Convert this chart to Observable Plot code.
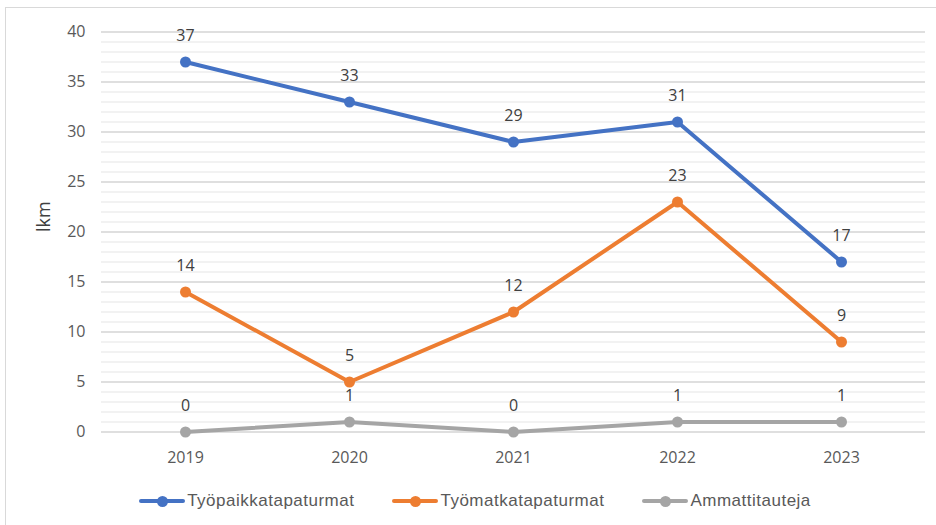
<!DOCTYPE html>
<html><head><meta charset="utf-8">
<script src="https://cdn.jsdelivr.net/npm/d3@7"></script>
<script src="https://cdn.jsdelivr.net/npm/@observablehq/plot@0.6"></script>
<style>
body{margin:0;background:#fff;}
#wrap{position:relative;width:936px;height:525px;overflow:hidden;font-family:"Open Sans",sans-serif;background:#fff;}
#frame{position:absolute;left:5px;top:7px;width:960px;height:560px;border-left:1px solid #d9d9d9;border-top:1px solid #d9d9d9;pointer-events:none;}
#chart{position:absolute;left:0;top:0;}
#legend{position:absolute;top:489px;left:0;width:936px;box-sizing:border-box;padding-left:14px;display:flex;justify-content:center;gap:38px;font-family:"Liberation Sans",Arial,sans-serif;font-size:17px;letter-spacing:0.5px;color:#595959;}
.item{display:flex;align-items:center;height:24px;}
.sw{position:relative;width:46px;height:24px;margin-right:2px;}
.sw .ln{position:absolute;left:0;right:0;top:10px;height:4px;border-radius:2px;}
.sw .dt{position:absolute;left:17.5px;top:6.5px;width:11px;height:11px;border-radius:50%;}
</style></head>
<body>
<div id="wrap">
  <div id="chart"></div>
  <div id="legend"></div>
  <div id="frame"></div>
</div>
<script>
const years = ["2019", "2020", "2021", "2022", "2023"];
const seriesNames = ["Työpaikkatapaturmat", "Työmatkatapaturmat", "Ammattitauteja"];
const tyopaikkatapaturmat = [37, 33, 29, 31, 17];
const tyomatkatapaturmat = [14, 5, 12, 23, 9];
const ammattitauteja = [0, 1, 0, 1, 1];
const seriesColors = ["#4472C4", "#ED7D31", "#A5A5A5"];
const yTicks = [0, 5, 10, 15, 20, 25, 30, 35, 40];
const yLabel = "lkm";

const seriesValues = [tyopaikkatapaturmat, tyomatkatapaturmat, ammattitauteja];
const data = [];
seriesNames.forEach((s, i) => years.forEach((y, j) => data.push({series: s, year: y, value: seriesValues[i][j]})));
const yMinor = d3.range(yTicks[0], yTicks[yTicks.length - 1] + 1);

const chart = Plot.plot({
  width: 936,
  height: 470,
  marginLeft: 101,
  marginRight: 11,
  marginTop: 31.5,
  marginBottom: 38.5,
  style: {fontFamily: "'Open Sans', sans-serif", fontSize: "16px", color: "#595959", background: "transparent"},
  x: {type: "point", domain: years, padding: 0.5},
  y: {domain: [0, 40]},
  color: {domain: seriesNames, range: seriesColors},
  marks: [
    Plot.ruleY(yMinor, {stroke: "#eeeeee", strokeWidth: 1.5}),
    Plot.ruleY(yTicks, {stroke: "#d9d9d9", strokeWidth: 1.5}),
    Plot.axisX({tickSize: 0, tickPadding: 20, label: null, fontSize: 16}),
    Plot.axisY({ticks: yTicks, tickSize: 0, tickPadding: 16, label: null, fontSize: 16}),
    Plot.text([yLabel], {frameAnchor: "left", dx: -57, rotate: -90, fontSize: 18, fill: "#404040"}),
    Plot.line(data, {x: "year", y: "value", z: "series", stroke: "series", strokeWidth: 4}),
    Plot.dot(data, {x: "year", y: "value", fill: "series", r: 5.5}),
    Plot.text(data, {x: "year", y: "value", text: d => String(d.value), dy: -26, fill: "#404040", fontSize: 16})
  ]
});
document.getElementById("chart").appendChild(chart);

const legend = document.getElementById("legend");
seriesNames.forEach((s, i) => {
  const it = document.createElement("div");
  it.className = "item";
  it.innerHTML = `<div class="sw"><div class="ln" style="background:${seriesColors[i]}"></div><div class="dt" style="background:${seriesColors[i]}"></div></div><span>${s}</span>`;
  legend.appendChild(it);
});
</script>
</body></html>
